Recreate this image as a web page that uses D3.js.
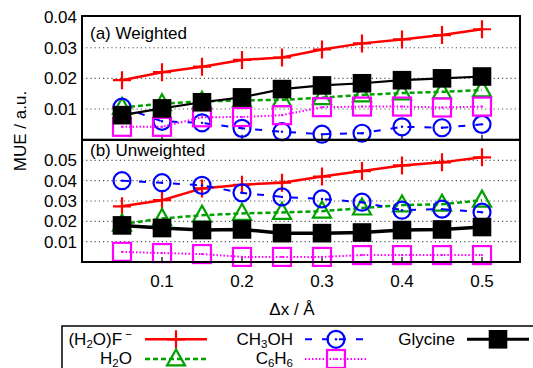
<!DOCTYPE html>
<html>
<head>
<meta charset="utf-8">
<script src="https://cdn.jsdelivr.net/npm/d3@7"></script>
<style>
  html, body { margin: 0; padding: 0; background: #fff; }
  svg { display: block; font-family: "Liberation Sans", Arial, Helvetica, sans-serif; }
</style>
</head>
<body>
<svg id="chart" width="533" height="368"></svg>
<script>
// Displacement step (Å)
const dx = [0.05, 0.10, 0.15, 0.20, 0.25, 0.30, 0.35, 0.40, 0.45, 0.50];

// (a) Weighted MUE
const wHF   = [0.0194, 0.0220, 0.0238, 0.0260, 0.0268, 0.0294, 0.0314, 0.0327, 0.0341, 0.0360];
const wH2O  = [0.0105, 0.0117, 0.0125, 0.0128, 0.0130, 0.0137, 0.0146, 0.0152, 0.0156, 0.0162];
const wMeOH = [0.0106, 0.0060, 0.0055, 0.0037, 0.0026, 0.0018, 0.0021, 0.0042, 0.0039, 0.0050];
const wBenz = [0.0042, 0.0042, 0.0073, 0.0074, 0.0080, 0.0106, 0.0108, 0.0108, 0.0105, 0.0108];
const wGly  = [0.0080, 0.0102, 0.0122, 0.0138, 0.0165, 0.0177, 0.0184, 0.0194, 0.0200, 0.0206];

// (b) Unweighted MUE
const uHF   = [0.0274, 0.0304, 0.0362, 0.0380, 0.0390, 0.0420, 0.0447, 0.0475, 0.0490, 0.0515];
const uH2O  = [0.0186, 0.0214, 0.0230, 0.0239, 0.0244, 0.0250, 0.0265, 0.0280, 0.0284, 0.0304];
const uMeOH = [0.0400, 0.0390, 0.0377, 0.0340, 0.0320, 0.0310, 0.0294, 0.0255, 0.0260, 0.0245];
const uBenz = [0.0050, 0.0044, 0.0039, 0.0025, 0.0025, 0.0025, 0.0034, 0.0034, 0.0034, 0.0034];
const uGly  = [0.0180, 0.0167, 0.0157, 0.0160, 0.0142, 0.0142, 0.0145, 0.0157, 0.0160, 0.0172];

const xTicks  = [0.1, 0.2, 0.3, 0.4, 0.5];
const yTicksA = [0.01, 0.02, 0.03, 0.04];
const yTicksB = [0.01, 0.02, 0.03, 0.04, 0.05];

const svg = d3.select("#chart");
const FONT = 17;

const x = d3.scaleLinear().domain([0, 0.5475]).range([82, 520]);
const yA = d3.scaleLinear().domain([0, 0.04]).range([139.7, 17]);
const yB = d3.scaleLinear().domain([0, 0.06]).range([262, 140]);

// series styles (plot order: Glycine last, on top)
const styles = [
  { key: "hf",   color: "#ff0000", dash: null,      width: 2.5, marker: "plus" },
  { key: "h2o",  color: "#00a000", dash: "5,3",     width: 2.5, marker: "triangle" },
  { key: "meoh", color: "#0000ff", dash: "7,10",    width: 2,   marker: "circle" },
  { key: "benz", color: "#ff00ff", dash: "1.5,2",   width: 2,   marker: "square" },
  { key: "gly",  color: "#000000", dash: null,      width: 2.5, marker: "fsquare" }
];

function drawMarker(g, type, color, cx, cy) {
  const s = 9;
  if (type === "plus") {
    g.append("path").attr("d", `M${cx - s},${cy}H${cx + s}M${cx},${cy - s}V${cy + s}`)
      .attr("stroke", color).attr("stroke-width", 2.2).attr("fill", "none");
  } else if (type === "triangle") {
    const h = 16, w = 18;
    g.append("path").attr("d", `M${cx},${cy - h * 0.6}L${cx + w / 2},${cy + h * 0.4}L${cx - w / 2},${cy + h * 0.4}Z`)
      .attr("stroke", color).attr("stroke-width", 2.2).attr("fill", "none");
  } else if (type === "circle") {
    g.append("circle").attr("cx", cx).attr("cy", cy).attr("r", 8.5)
      .attr("stroke", color).attr("stroke-width", 2.2).attr("fill", "none");
    g.append("circle").attr("cx", cx).attr("cy", cy).attr("r", 1.2).attr("fill", color);
  } else if (type === "square") {
    g.append("rect").attr("x", cx - 9).attr("y", cy - 9).attr("width", 18).attr("height", 18)
      .attr("stroke", color).attr("stroke-width", 2.2).attr("fill", "none");
    g.append("circle").attr("cx", cx).attr("cy", cy).attr("r", 1.1).attr("fill", color);
  } else if (type === "fsquare") {
    g.append("rect").attr("x", cx - 9.3).attr("y", cy - 9.3).attr("width", 18.6).attr("height", 18.6)
      .attr("fill", color);
  }
}

function drawPanel(y, ticks, seriesData, label, labelY, glyWidth) {
  const g = svg.append("g");
  // dotted grid lines
  ticks.forEach(t => {
    if (y(t) > y.range()[1] + 1) {
      g.append("line").attr("x1", x.range()[0]).attr("x2", x.range()[1])
        .attr("y1", y(t)).attr("y2", y(t))
        .attr("stroke", "#555").attr("stroke-width", 1.1).attr("stroke-dasharray", "1.2,3");
    }
  });
  // y tick labels
  ticks.forEach(t => {
    g.append("text").attr("x", 77).attr("y", y(t)).attr("dy", "0.36em")
      .attr("text-anchor", "end").attr("font-size", FONT).text(t.toFixed(2));
  });
  // x ticks along the bottom, pointing inward
  xTicks.forEach(t => {
    g.append("line").attr("x1", x(t)).attr("x2", x(t))
      .attr("y1", y.range()[0]).attr("y2", y.range()[0] - 5)
      .attr("stroke", "#000").attr("stroke-width", 1.2);
  });
  // series
  styles.forEach((st, i) => {
    const vals = seriesData[i];
    const pts = dx.map((d, j) => [x(d), y(vals[j])]);
    const line = d3.line();
    g.append("path").attr("d", line(pts)).attr("fill", "none")
      .attr("stroke", st.color)
      .attr("stroke-width", st.key === "gly" ? glyWidth : st.width)
      .attr("stroke-dasharray", st.dash);
    pts.forEach(p => drawMarker(g, st.marker, st.color, p[0], p[1]));
  });
  // frame
  g.append("rect").attr("x", x.range()[0]).attr("y", y.range()[1] - (y === yA ? 1 : 0))
    .attr("width", x.range()[1] - x.range()[0])
    .attr("height", y.range()[0] - y.range()[1] + (y === yA ? 1 : 0))
    .attr("fill", "none").attr("stroke", "#000").attr("stroke-width", 2);
  // panel title
  g.append("text").attr("x", 90).attr("y", labelY).attr("font-size", FONT).text(label);
}

drawPanel(yA, yTicksA, [wHF, wH2O, wMeOH, wBenz, wGly], "(a) Weighted", 38.5, 2.2);
drawPanel(yB, yTicksB, [uHF, uH2O, uMeOH, uBenz, uGly], "(b) Unweighted", 156, 3.5);

// x tick labels
xTicks.forEach(t => {
  svg.append("text").attr("x", x(t)).attr("y", 286.5).attr("text-anchor", "middle")
    .attr("font-size", FONT).text(t.toFixed(1));
});

// axis titles
svg.append("text").attr("x", 292).attr("y", 315).attr("text-anchor", "middle")
  .attr("font-size", FONT).text("Δx / Å");
svg.append("text").attr("transform", "translate(26,131) rotate(-90)")
  .attr("text-anchor", "middle").attr("font-size", FONT).text("MUE / a.u.");

// legend
const leg = svg.append("g");
leg.append("rect").attr("x", 62).attr("y", 326).attr("width", 500).attr("height", 80)
  .attr("fill", "#fff").attr("stroke", "#000").attr("stroke-width", 1.5);

const legendItems = [
  { s: 0, col: 0, row: 0, parts: [["(H", 0], ["2", -1], ["O)F", 0], [" \u2212", 1]] },
  { s: 1, col: 0, row: 1, parts: [["H", 0], ["2", -1], ["O", 0]] },
  { s: 2, col: 1, row: 0, parts: [["CH", 0], ["3", -1], ["OH", 0]] },
  { s: 3, col: 1, row: 1, parts: [["C", 0], ["6", -1], ["H", 0], ["6", -1]] },
  { s: 4, col: 2, row: 0, parts: [["Glycine", 0]] }
];
const colTextEnd = [132, 293, 455];
const colLineStart = [145, 305, 467];
const rowY = [339.3, 359];
const rowBase = [345, 363.5];
const sampleLen = 62;

legendItems.forEach(it => {
  const st = styles[it.s];
  const cy = rowY[it.row];
  const t = leg.append("text").attr("x", colTextEnd[it.col]).attr("y", rowBase[it.row])
    .attr("text-anchor", "end").attr("font-size", FONT);
  // subscripts drop 3px, superscripts rise 7px; dy is relative to the previous tspan
  let acc = 0;
  it.parts.forEach(([txt, shift]) => {
    const target = shift === -1 ? 3 : (shift === 1 ? -7 : 0);
    const ts = t.append("tspan").text(txt).attr("dy", target - acc);
    if (shift !== 0) ts.attr("font-size", 11.5);
    acc = target;
  });
  const x0 = colLineStart[it.col];
  leg.append("line").attr("x1", x0).attr("x2", x0 + sampleLen).attr("y1", cy).attr("y2", cy)
    .attr("stroke", st.color).attr("stroke-width", st.key === "gly" ? 3 : st.width)
    .attr("stroke-dasharray", st.dash);
  drawMarker(leg, st.marker, st.color, x0 + sampleLen / 2, cy);
});
</script>
</body>
</html>
